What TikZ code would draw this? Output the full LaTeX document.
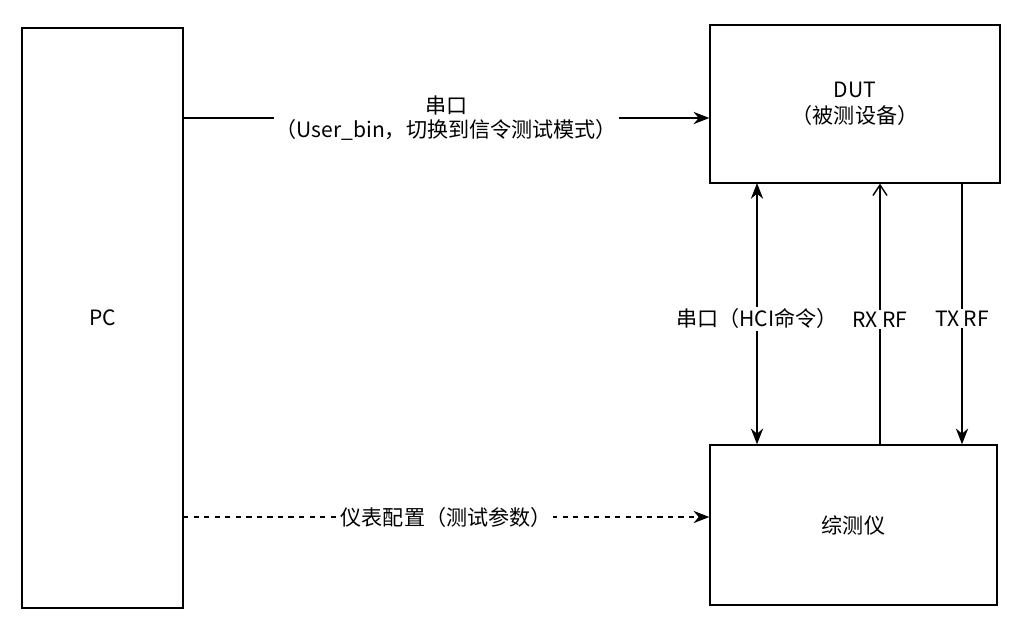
\documentclass[tikz,border=0pt]{standalone}
\usepackage{fontspec}
\setmainfont{Noto Sans CJK SC}
\usetikzlibrary{positioning, arrows.meta}
\tikzstyle{box} = [rectangle, draw, thick, inner sep=0pt, align=center, font=\fontsize{12}{15}\selectfont]
\tikzstyle{arrow} = [thick, -{Stealth[length=9pt,width=7pt]}]
\tikzstyle{lbl} = [fill=white, inner sep=1pt, font=\fontsize{12}{14}\selectfont, align=center]
\begin{document}
\begin{tikzpicture}[x=0.02cm, y=-0.02cm]
    \useasboundingbox (0,0) rectangle (1023,623);
    % boxes
    \node[box, minimum width=3.22cm, minimum height=11.6cm] (pc) at (102.5,318) {PC};
    \node[box, minimum width=5.8cm, minimum height=3.16cm] (dut) at (855,104) {DUT\\（被测设备）};
    \node[box, minimum width=5.74cm, minimum height=3.2cm] (tester) at (853.5,525) {综测仪};

    % PC connections
    \coordinate (s1) at (183,118);
    \coordinate (s2) at (183,517);
    \draw[arrow] (s1) -- (s1 -| dut.west) node[lbl, midway] {串口\\（User\_bin，切换到信令测试模式）};
    \draw[arrow, dashed] (s2) -- (s2 -| tester.west) node[lbl, midway] {仪表配置（测试参数）};

    % DUT <-> tester
    \coordinate (h1) at (757,183);
    \coordinate (r1) at (880,445);
    \coordinate (t1) at (962,183);
    \draw[arrow, {Stealth[length=9pt,width=7pt]}-{Stealth[length=9pt,width=7pt]}] (h1) -- (h1 |- tester.north) node[lbl, pos=0.52] {串口（HCI命令）};
    \draw[thick, -{Straight Barb[length=6pt,width=8pt]}] (r1) -- (r1 |- dut.south) node[lbl, pos=0.48] {RX RF};
    \draw[arrow] (t1) -- (t1 |- tester.north) node[lbl, pos=0.52] {TX RF};
\end{tikzpicture}
\end{document}
